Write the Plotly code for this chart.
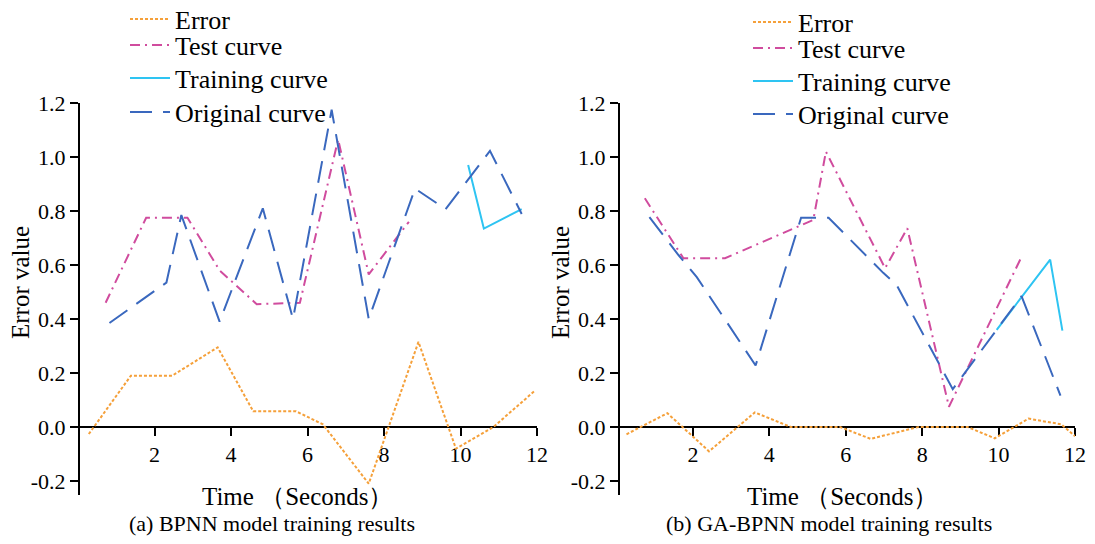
import plotly.graph_objects as go

# ---------------- data ----------------
series_names = ["Error", "Test curve", "Training curve", "Original curve"]

left_err_x = [0.28, 1.38, 2.46, 3.65, 4.58, 5.70, 6.40, 7.60, 8.90, 9.88, 10.86, 11.95]
left_err_y = [-0.026, 0.19, 0.19, 0.295, 0.058, 0.058, 0.01, -0.21, 0.315, -0.08, 0.0, 0.135]

left_test_x = [0.72, 1.78, 2.86, 3.70, 4.67, 5.80, 6.80, 7.60, 8.65]
left_test_y = [0.46, 0.775, 0.775, 0.58, 0.455, 0.46, 1.065, 0.565, 0.76]

left_train_x = [10.20, 10.61, 11.60]
left_train_y = [0.97, 0.735, 0.807]

left_orig_x = [0.82, 2.31, 2.70, 3.70, 4.83, 5.62, 6.63, 7.60, 8.81, 9.61, 10.77, 11.60]
left_orig_y = [0.385, 0.535, 0.785, 0.39, 0.81, 0.40, 1.175, 0.40, 0.883, 0.807, 1.023, 0.789]

right_err_x = [0.26, 1.33, 2.42, 3.62, 4.56, 5.85, 6.65, 7.90, 9.19, 9.90, 10.78, 11.64, 12.0]
right_err_y = [-0.027, 0.051, -0.09, 0.054, 0.0, 0.0, -0.044, 0.0, 0.0, -0.042, 0.031, 0.01, -0.034]

right_test_x = [0.74, 1.75, 2.84, 5.15, 5.48, 7.03, 7.61, 8.70, 10.60]
right_test_y = [0.847, 0.625, 0.625, 0.767, 1.02, 0.588, 0.736, 0.075, 0.63]

right_train_x = [9.95, 11.35, 11.67]
right_train_y = [0.36, 0.62, 0.357]

right_orig_x = [0.86, 1.62, 2.10, 3.64, 4.83, 5.55, 6.98, 7.33, 8.80, 10.60, 11.62]
right_orig_y = [0.777, 0.637, 0.555, 0.228, 0.775, 0.775, 0.571, 0.526, 0.14, 0.485, 0.116]

y_tick_vals = [-0.2, 0.0, 0.2, 0.4, 0.6, 0.8, 1.0, 1.2]
y_tick_text = ["-0.2", "0.0", "0.2", "0.4", "0.6", "0.8", "1.0", "1.2"]
x_tick_vals = [2, 4, 6, 8, 10, 12]
x_tick_text = ["2", "4", "6", "8", "10", "12"]

# ---------------- styles ----------------
FONT = "Liberation Serif"
styles = {
    "Error": dict(color="#F5A03A", width=2, dash="3px,2px"),
    "Test curve": dict(color="#D04C9E", width=2, dash="10px,5px,2px,5px"),
    "Training curve": dict(color="#2EC4F2", width=2, dash="solid"),
    "Original curve": dict(color="#3A68BE", width=2, dash="22px,11px"),
}

W, H = 1095, 544
fig = go.Figure()

# legend rows (pixel centres) for each panel
legend_left_x = 125
legend_right_x = 748
legend_rows_left = [19, 45, 78, 112]
legend_rows_right = [22, 48, 81, 114]

panels = [
    ("x", "y", 1,
     [(left_err_x, left_err_y), (left_test_x, left_test_y),
      (left_train_x, left_train_y), (left_orig_x, left_orig_y)]),
    ("x2", "y2", 5,
     [(right_err_x, right_err_y), (right_test_x, right_test_y),
      (right_train_x, right_train_y), (right_orig_x, right_orig_y)]),
]
for xa, ya, lg0, data in panels:
    for i, (name, (xs, ys)) in enumerate(zip(series_names, data)):
        n = lg0 + i
        lg = "legend" if n == 1 else f"legend{n}"
        fig.add_trace(go.Scatter(
            x=xs, y=ys, mode="lines", name=name, xaxis=xa, yaxis=ya,
            legend=lg, line=styles[name], showlegend=True))

y_lo, y_hi = -0.25, 1.2
yd0 = 1 - 494.5 / H
yd1 = 1 - 103 / H
x_axis_pos = yd0 + (0 - y_lo) / (y_hi - y_lo) * (yd1 - yd0)

axis_common = dict(
    showgrid=False, zeroline=False, showline=True, linecolor="black",
    linewidth=2, ticks="outside", ticklen=8, tickwidth=2, tickcolor="black",
    tickfont=dict(family=FONT, size=22, color="black"), automargin=False,
    layer="below traces",
)

def xaxis(dom, rng):
    return dict(axis_common, domain=dom, range=rng, anchor="free",
                position=x_axis_pos, tickvals=x_tick_vals,
                ticktext=x_tick_text)

def yaxis(anchor_x):
    return dict(axis_common, domain=[yd0, yd1], range=[y_lo, y_hi],
                anchor=anchor_x, tickvals=y_tick_vals, ticktext=y_tick_text)

def legend_box(xp, yc):
    return dict(font=dict(family=FONT, size=26, color="black"),
                bgcolor="rgba(0,0,0,0)", borderwidth=0, xanchor="left",
                yanchor="middle", itemwidth=40,
                x=xp / W, y=1 - yc / H)

def ann(text, x, y, size, angle=0):
    return dict(text=text, x=x / W, y=1 - y / H, xref="paper", yref="paper",
                xanchor="center", yanchor="middle", textangle=angle,
                showarrow=False, font=dict(family=FONT, size=size, color="black"))

legends = {}
for i, yc in enumerate(legend_rows_left):
    n = 1 + i
    legends["legend" if n == 1 else f"legend{n}"] = legend_box(legend_left_x, yc)
for i, yc in enumerate(legend_rows_right):
    legends[f"legend{5 + i}"] = legend_box(legend_right_x, yc)

fig.update_layout(
    width=W, height=H,
    margin=dict(l=0, r=0, t=0, b=0, autoexpand=False),
    paper_bgcolor="white", plot_bgcolor="white",
    xaxis=xaxis([80 / W, 537 / W], [0.05, 12]),
    yaxis=yaxis("x"),
    xaxis2=xaxis([620 / W, 1075 / W], [0.09, 12]),
    yaxis2=yaxis("x2"),
    annotations=[
        ann("Error value", 20, 283, 25, -90),
        ann("Error value", 560, 283, 25, -90),
        ann("Time （Seconds）", 298, 496, 25),
        ann("Time （Seconds）", 843, 496, 25),
        ann("(a) BPNN model training results", 272, 523, 22),
        ann("(b) GA-BPNN model training results", 829, 523, 22),
    ],
    **legends,
)

fig.write_html("out.html")
